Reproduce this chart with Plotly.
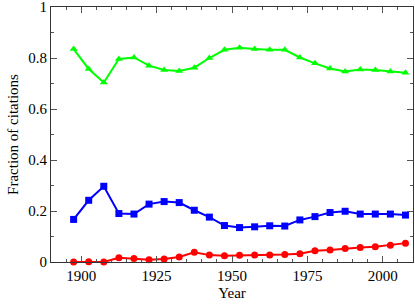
import plotly.graph_objects as go

years = [1897.5 + 5 * i for i in range(23)]
green = [0.835, 0.757, 0.704, 0.796, 0.802, 0.770, 0.753, 0.749, 0.762, 0.800, 0.832, 0.840,
         0.835, 0.832, 0.832, 0.802, 0.779, 0.759, 0.747, 0.755, 0.753, 0.747, 0.742]
blue = [0.167, 0.242, 0.297, 0.190, 0.188, 0.227, 0.237, 0.233, 0.203, 0.176, 0.143, 0.135,
        0.138, 0.142, 0.141, 0.165, 0.178, 0.194, 0.199, 0.188, 0.188, 0.188, 0.184]
red = [0.000, 0.001, 0.000, 0.017, 0.014, 0.009, 0.012, 0.020, 0.038, 0.027, 0.025, 0.026,
       0.027, 0.027, 0.029, 0.032, 0.044, 0.047, 0.053, 0.057, 0.060, 0.066, 0.074]
x_ticks = [1900, 1925, 1950, 1975, 2000]
y_ticks = [0, 0.2, 0.4, 0.6, 0.8, 1]
y_tick_labels = ["0", "0.2", "0.4", "0.6", "0.8", "1"]

fig = go.Figure()
for vals, col, sym in [(green, "#00ff00", "triangle-up"), (blue, "#0000ff", "square"), (red, "#ff0000", "circle")]:
    fig.add_trace(go.Scatter(x=years, y=vals, mode="lines+markers",
                             line=dict(color=col, width=2),
                             marker=dict(color=col, symbol=sym, size=7),
                             showlegend=False, cliponaxis=False))

font = dict(family="Liberation Serif, Times New Roman, DejaVu Serif, serif", size=15, color="black")
common = dict(showgrid=False, zeroline=False, showline=True, linecolor="#333", linewidth=1,
              mirror="allticks", ticks="inside", ticklen=6, tickcolor="#555", tickfont=font,
              automargin=False, ticklabeloverflow="allow")
fig.update_xaxes(range=[1890, 2010], tickvals=x_ticks, title=dict(text="Year", font=font, standoff=4),
                 minor=dict(dtick=5, tick0=1890, ticks="inside", ticklen=3, tickcolor="#555"), **common)
fig.update_yaxes(range=[0, 1], tickvals=y_ticks, ticktext=y_tick_labels,
                 title=dict(text="Fraction of citations", font=font, standoff=6),
                 minor=dict(dtick=0.1, tick0=0, ticks="inside", ticklen=3, tickcolor="#555"), **common)
fig.update_layout(width=415, height=305, margin=dict(l=51, r=2, t=7, b=43),
                  plot_bgcolor="white", paper_bgcolor="white", font=font)
fig.write_html("out.html", post_script="document.body.style.margin='0';",
               config={"displayModeBar": False})
